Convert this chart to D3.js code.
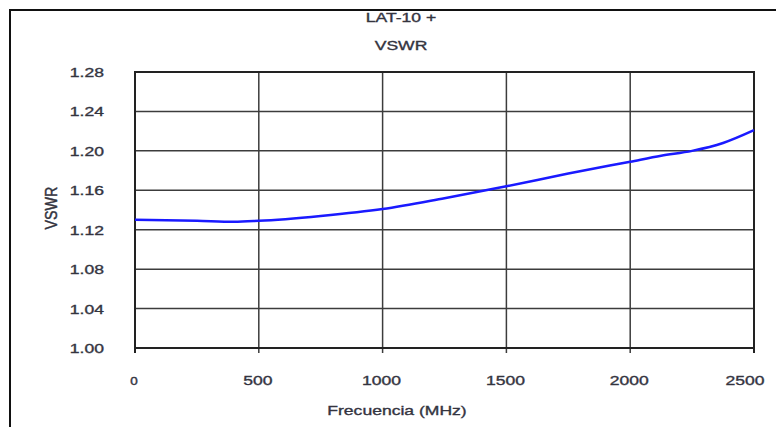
<!DOCTYPE html>
<html>
<head>
<meta http-equiv='Content-Type' content='text/html; charset=UTF-8'/>
<script src="https://cdn.jsdelivr.net/npm/d3@7"></script>
<style>
    body { margin: 0; background: #fff; }
    svg { font-family: Arial, "Liberation Sans", sans-serif; }
    .lbl { font-size: 13px; fill: #34343f; stroke: #34343f; stroke-width: 0.35; }
    .grid { stroke: #3c3c3c; stroke-width: 1.5; }
</style>
</head>
<body>
<svg id="main" width="776" height="427"></svg>
<script>
    // data
    var freqs = [0, 250, 400, 500, 750, 1000, 1250, 1500, 1750, 2000, 2125, 2250, 2375, 2500]
    var vswr  = [1.130, 1.129, 1.128, 1.129, 1.134, 1.141, 1.152, 1.164, 1.177, 1.189, 1.195, 1.200, 1.208, 1.221]
    var xTicks = [0, 500, 1000, 1500, 2000, 2500]
    var yTicks = [1.00, 1.04, 1.08, 1.12, 1.16, 1.20, 1.24, 1.28]
    var titleLines = ['LAT-10 +', 'VSWR']

    var svg = d3.select('#main')
    var plot = {left: 135, right: 754, top: 72, bottom: 348}
    var stretch = 1.35   // the source picture is stretched sideways

    var x = d3.scaleLinear().domain([0, 2500]).range([plot.left, plot.right])
    var y = d3.scaleLinear().domain([1.00, 1.28]).range([plot.bottom, plot.top])

    // put a text at (tx, ty), widened like the source
    var label = function(g, tx, ty, anchor, str) {
        return g.append('text')
            .classed('lbl', true)
            .attr('transform', 'translate(' + tx + ',' + ty + ') scale(' + stretch + ',1)')
            .attr('text-anchor', anchor)
            .text(str)
    }

    // outer frame, runs off the right and bottom edge
    svg.append('rect')
        .attr('x', 10).attr('y', 10)
        .attr('width', 800).attr('height', 440)
        .attr('fill', 'none').attr('stroke', '#111').attr('stroke-width', 2)

    // grid
    svg.append('g').selectAll('line')
        .data(yTicks.slice(1, -1))
        .enter().append('line')
        .classed('grid', true)
        .attr('x1', plot.left).attr('x2', plot.right)
        .attr('y1', d => y(d)).attr('y2', d => y(d))

    svg.append('g').selectAll('line')
        .data(xTicks.slice(1, -1))
        .enter().append('line')
        .classed('grid', true)
        .attr('y1', plot.top).attr('y2', plot.bottom + 5)
        .attr('x1', d => x(d)).attr('x2', d => x(d))

    // plot border
    svg.append('rect')
        .attr('x', plot.left).attr('y', plot.top)
        .attr('width', plot.right - plot.left).attr('height', plot.bottom - plot.top)
        .attr('fill', 'none').attr('stroke', '#222').attr('stroke-width', 2)

    // end ticks below x axis
    svg.append('g').selectAll('line')
        .data([0, 2500])
        .enter().append('line')
        .attr('stroke', '#222').attr('stroke-width', 2)
        .attr('y1', plot.bottom).attr('y2', plot.bottom + 5)
        .attr('x1', d => x(d)).attr('x2', d => x(d))

    // tick labels
    var yl = svg.append('g')
    yTicks.forEach(function(d) { label(yl, 104, y(d) + 5, 'end', d.toFixed(2)) })

    var xl = svg.append('g')
    xTicks.forEach(function(d) {
        // last label is pulled in so it stays inside the frame
        var t = label(xl, d === 2500 ? x(d) - 9 : x(d) - 1, 385, 'middle', d)
        if (d === 0) t.style('font-size', '10px')
    })

    // titles
    var tl = svg.append('g')
    titleLines.forEach(function(d, i) { label(tl, 401, 22 + i * 28, 'middle', d) })

    svg.append('text')
        .classed('lbl', true)
        .attr('transform', 'translate(57,208) rotate(-90) scale(1.1,1.3)')
        .attr('text-anchor', 'middle')
        .text('VSWR')

    label(svg, 397, 415, 'middle', 'Frecuencia (MHz)')

    // curve
    var line = d3.line()
        .x((d, i) => x(freqs[i]))
        .y(d => y(d))
        .curve(d3.curveMonotoneX)

    svg.append('path')
        .datum(vswr)
        .attr('d', line)
        .attr('fill', 'none')
        .attr('stroke', '#1a1aff')
        .attr('stroke-width', 2.5)
</script>
</body>
</html>
